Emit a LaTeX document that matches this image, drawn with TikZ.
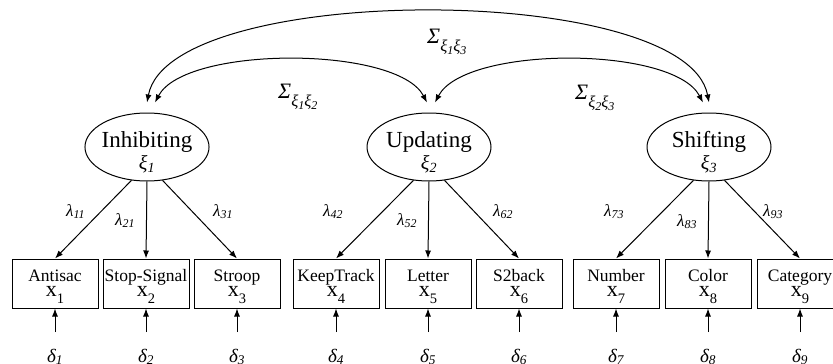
\documentclass[tikz,border=0pt]{standalone}
\usepackage{fontspec}
\setmainfont{Liberation Serif}
\usetikzlibrary{arrows.meta,shapes.geometric}
\newcommand\obsvar[2]{\raisebox{0pt}[12pt][17pt]{\begin{tabular}[t]{@{}c@{}}#1\\{\fontsize{22}{15}\selectfont x}\raisebox{-7pt}{\fontsize{14.5}{15}\selectfont #2}\end{tabular}}}
\newcommand\latvar[2]{\raisebox{0pt}[15pt][15pt]{\begin{tabular}[t]{@{}c@{}}#1\\{\fontsize{20}{22}\selectfont\itshape ξ\textsubscript{#2}}\end{tabular}}}
\newcommand\lamlab[1]{λ\textsubscript{#1}}
\newcommand\errlab[1]{δ\textsubscript{#1}}
\newcommand\covlab[2]{Σ\raisebox{-8pt}{\fontsize{16.5}{16}\selectfont ξ\raisebox{-3.5pt}{\fontsize{12}{12}\selectfont #1}ξ\raisebox{-3.5pt}{\fontsize{12}{12}\selectfont #2}}}
\begin{document}
\begin{tikzpicture}[x=1pt,y=-1pt,
  arr/.style={-{Latex[length=8pt,width=6pt]}, line width=1pt},
  dblarr/.style={{Latex[length=8pt,width=6pt]}-{Latex[length=8pt,width=6pt]}, line width=1pt},
  latent/.style={ellipse, draw, line width=1pt, minimum width=124pt, minimum height=68pt, inner xsep=-1.5pt, inner ysep=0pt, font=\fontsize{23}{22}\selectfont},
  obs/.style={rectangle, draw, line width=1pt, minimum width=86pt, minimum height=49pt, inner sep=0pt, font=\fontsize{17.5}{15}\selectfont},
  lam/.style={font=\fontsize{17}{17}\selectfont\itshape, inner sep=0pt, anchor=base west},
  err/.style={font=\fontsize{19}{19}\selectfont\itshape, inner sep=0pt, anchor=base},
  cov/.style={font=\fontsize{22}{22}\selectfont\itshape, inner sep=0pt, anchor=base west}]
\useasboundingbox (0,0) rectangle (833,364);
% latent variables
\node[latent] (e1) at (147,147) {\latvar{Inhibiting}{1}};
\node[latent] (e2) at (429,147) {\latvar{Updating}{2}};
\node[latent] (e3) at (709,147) {\latvar{Shifting}{3}};
% observed variables
\node[obs] (b1) at (55,283.5) {\obsvar{Antisac}{1}};
\node[obs] (b2) at (146,283.5) {\obsvar{Stop-Signal}{2}};
\node[obs] (b3) at (237,283.5) {\obsvar{Stroop}{3}};
\node[obs] (b4) at (336,283.5) {\obsvar{KeepTrack}{4}};
\node[obs] (b5) at (428,283.5) {\obsvar{Letter}{5}};
\node[obs] (b6) at (519,283.5) {\obsvar{S2back}{6}};
\node[obs] (b7) at (616,283.5) {\obsvar{Number}{7}};
\node[obs] (b8) at (708,283.5) {\obsvar{Color}{8}};
\node[obs] (b9) at (800,283.5) {\obsvar{Category}{9}};
% loadings
\draw[arr] (e1.-115) -- (b1.north);
\draw[arr] (e1.south) -- (b2.north);
\draw[arr] (e1.-65) -- (b3.north);
\draw[arr] (e2.-115) -- (b4.north);
\draw[arr] (e2.south) -- (b5.north);
\draw[arr] (e2.-65) -- (b6.north);
\draw[arr] (e3.-115) -- (b7.north);
\draw[arr] (e3.south) -- (b8.north);
\draw[arr] (e3.-65) -- (b9.north);
\node[lam] (l11) at (66,216) {\lamlab{11}};
\node[lam] (l21) at (115,225) {\lamlab{21}};
\node[lam] (l31) at (213,216) {\lamlab{31}};
\node[lam] (l42) at (323,216) {\lamlab{42}};
\node[lam] (l52) at (397,225) {\lamlab{52}};
\node[lam] (l62) at (493,216) {\lamlab{62}};
\node[lam] (l73) at (604,216) {\lamlab{73}};
\node[lam] (l83) at (677,226) {\lamlab{83}};
\node[lam] (l93) at (763,216) {\lamlab{93}};
% errors
\foreach \i/\x in {1/55,2/146,3/237,4/336,5/428,6/519,7/616,8/708,9/800}{
  \node[err] (d\i) at (\x,362) {\errlab{\i}};
  \draw[arr] ([yshift=30pt]d\i.base) -- (b\i.south);
}
% covariances
\coordinate (t1o) at ([yshift=10pt]e1.north);
\coordinate (t1i) at ([xshift=8pt,yshift=10pt]e1.north);
\coordinate (t2l) at ([xshift=-2pt,yshift=10pt]e2.north);
\coordinate (t2r) at ([xshift=6pt,yshift=10pt]e2.north);
\coordinate (t3i) at ([xshift=-6pt,yshift=10pt]e3.north);
\coordinate (t3o) at ([yshift=10pt]e3.north);
\draw[dblarr] (t1i) .. controls +(30,-57) and +(-30,-57) .. (t2l);
\draw[dblarr] (t2r) .. controls +(30,-57) and +(-30,-57) .. (t3i);
\draw[dblarr] (t1o) .. controls +(23,-121) and +(-23,-121) .. (t3o);
\node[cov] (s13) at (427,43) {\covlab{1}{3}};
\node[cov] (s12) at (278,98) {\covlab{1}{2}};
\node[cov] (s23) at (575,99) {\covlab{2}{3}};
\end{tikzpicture}
\end{document}
